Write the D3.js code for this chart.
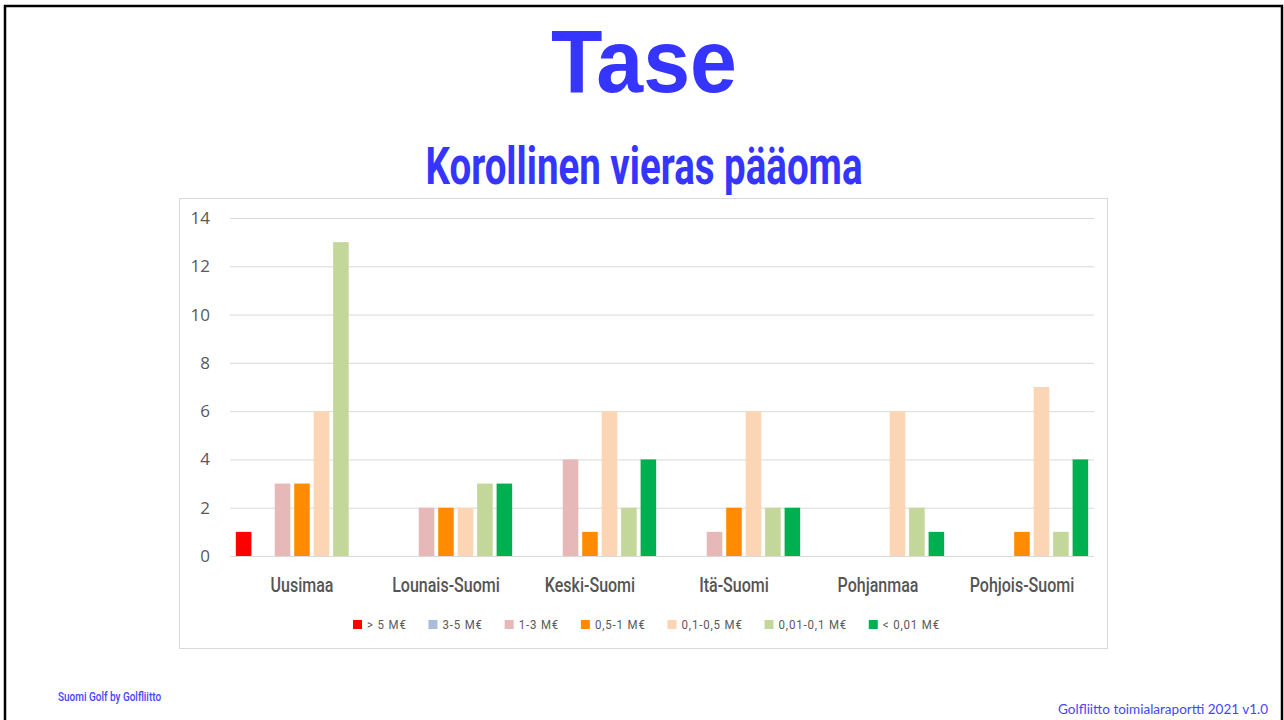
<!DOCTYPE html>
<html>
<head>
<meta charset="utf-8">
<script src="https://cdn.jsdelivr.net/npm/d3@7"></script>
<style>
  body { margin: 0; background: #fff; }
  svg { display: block; }
  .narrow { font-family: Roboto, "Liberation Sans", sans-serif; }
</style>
</head>
<body>
<div id="chart"></div>
<script>
// data
var regions = ["Uusimaa", "Lounais-Suomi", "Keski-Suomi", "Itä-Suomi", "Pohjanmaa", "Pohjois-Suomi"];
var classes = ["> 5 M€", "3-5 M€", "1-3 M€", "0,5-1 M€", "0,1-0,5 M€", "0,01-0,1 M€", "< 0,01 M€"];
var colors = ["#ff0000", "#a9bcdc", "#e6b8b7", "#ff8c00", "#fcd5b4", "#c4d79b", "#00b050"];
// one array per size class, values in region order
var over5 = [1, 0, 0, 0, 0, 0];
var from3to5 = [0, 0, 0, 0, 0, 0];
var from1to3 = [3, 2, 4, 1, 0, 0];
var from05to1 = [3, 2, 1, 2, 0, 1];
var from01to05 = [6, 2, 6, 6, 6, 7];
var from001to01 = [13, 3, 2, 2, 2, 1];
var under001 = [0, 3, 4, 2, 1, 4];
var yTicks = [0, 2, 4, 6, 8, 10, 12, 14];

var seriesValues = [over5, from3to5, from1to3, from05to1, from01to05, from001to01, under001];

var svgWidth = 1284;
var svgHeight = 720;
var squeeze = 0.8; // condensed look, no narrow font installed

var svg = d3.select("#chart")
    .append("svg")
    .attr("width", svgWidth)
    .attr("height", svgHeight);

// slide frame
svg.append("rect")
    .attr("x", 5).attr("y", 6)
    .attr("width", 1277).attr("height", 730)
    .attr("fill", "none")
    .attr("stroke", "#000")
    .attr("stroke-width", 2.5);

// titles
svg.append("text")
    .attr("x", 644).attr("y", 92)
    .attr("text-anchor", "middle")
    .attr("fill", "#3535ff")
    .style("font-family", "'Liberation Sans', sans-serif")
    .style("font-weight", "bold")
    .style("font-size", "89px")
    .attr("textLength", 186)
    .attr("lengthAdjust", "spacingAndGlyphs")
    .text("Tase");

svg.append("text")
    .attr("class", "narrow")
    .attr("x", 644).attr("y", 184)
    .attr("text-anchor", "middle")
    .attr("fill", "#3535ff")
    .style("font-weight", "bold")
    .style("font-size", "51px")
    .attr("textLength", 437)
    .attr("lengthAdjust", "spacingAndGlyphs")
    .text("Korollinen vieras pääoma");

// chart box
svg.append("rect")
    .attr("x", 179.5).attr("y", 198.5)
    .attr("width", 928).attr("height", 450)
    .attr("fill", "#fff")
    .attr("stroke", "#d9d9d9");

var margin = { left: 230, right: 1094, top: 218, bottom: 556 };

var x0 = d3.scaleBand()
    .domain(regions)
    .range([margin.left, margin.right]);

var x1 = d3.scaleBand()
    .domain(classes)
    .range([0, x0.bandwidth()])
    .paddingInner(0.2)
    .paddingOuter(0.3);

var y = d3.scaleLinear()
    .domain([0, 14])
    .range([margin.bottom, margin.top]);

// gridlines + y labels
var yAxis = svg.append("g")
    .attr("transform", `translate(${margin.left},0)`)
    .call(d3.axisLeft(y).tickValues(yTicks).tickSize(-(margin.right - margin.left)).tickPadding(20));
yAxis.select(".domain").remove();
yAxis.selectAll(".tick line").attr("stroke", "#d9d9d9");
yAxis.selectAll(".tick text")
    .attr("fill", "#595959")
    .style("font-family", "'Open Sans', sans-serif")
    .style("font-size", "17px");

// category labels
var xAxis = svg.append("g")
    .attr("transform", `translate(0,${margin.bottom})`)
    .call(d3.axisBottom(x0).tickSize(0).tickPadding(22));
xAxis.select(".domain").remove();
xAxis.selectAll(".tick text")
    .attr("class", "narrow")
    .attr("fill", "#555")
    .attr("transform", `scale(${squeeze},1)`)
    .style("font-size", "20px")
    .style("font-weight", "500");

// bars
var rows = [];
regions.forEach(function(r, i) {
    classes.forEach(function(c, j) {
        rows.push({ region: r, cls: c, value: seriesValues[j][i], color: colors[j] });
    });
});

svg.append("g")
    .selectAll("rect")
    .data(rows.filter(d => d.value > 0))
    .enter()
    .append("rect")
    .attr("x", d => x0(d.region) + x1(d.cls))
    .attr("y", d => y(d.value))
    .attr("width", x1.bandwidth())
    .attr("height", d => y(0) - y(d.value))
    .attr("fill", d => d.color);

// legend, spread between the first swatch and the last label like the original
var legendLeft = 353, legendRight = 940;
var legend = svg.append("g").attr("transform", "translate(0,624)");
var items = legend.selectAll("g")
    .data(classes)
    .enter()
    .append("g");
items.append("rect")
    .attr("x", 0).attr("y", -4)
    .attr("width", 9).attr("height", 9)
    .attr("fill", (d, i) => colors[i]);
items.append("g")
    .attr("transform", `translate(14,0) scale(0.85,1)`)
    .append("text")
    .attr("class", "narrow")
    .attr("y", 5)
    .attr("fill", "#595959")
    .style("font-size", "13.5px")
    .style("letter-spacing", "1px")
    .text(d => d);

var widths = [];
items.each(function() { widths.push(this.getBoundingClientRect().width); });
var gap = (legendRight - legendLeft - d3.sum(widths)) / (widths.length - 1);
var pos = legendLeft;
items.attr("transform", function(d, i) {
    var t = `translate(${pos},0)`;
    pos += widths[i] + gap;
    return t;
});

// footer
svg.append("g")
    .attr("transform", `translate(58,701) scale(${squeeze},1)`)
    .append("text")
    .attr("class", "narrow")
    .attr("fill", "#4646ff")
    .style("font-size", "12.5px")
    .style("font-weight", "500")
    .text("Suomi Golf by Golfliitto");

svg.append("text")
    .attr("x", 1268).attr("y", 714)
    .attr("text-anchor", "end")
    .attr("fill", "#4646ff")
    .style("font-family", "Lato, 'Open Sans', sans-serif")
    .style("font-size", "13.5px")
    .text("Golfliitto toimialaraportti 2021 v1.0");
</script>
</body>
</html>
